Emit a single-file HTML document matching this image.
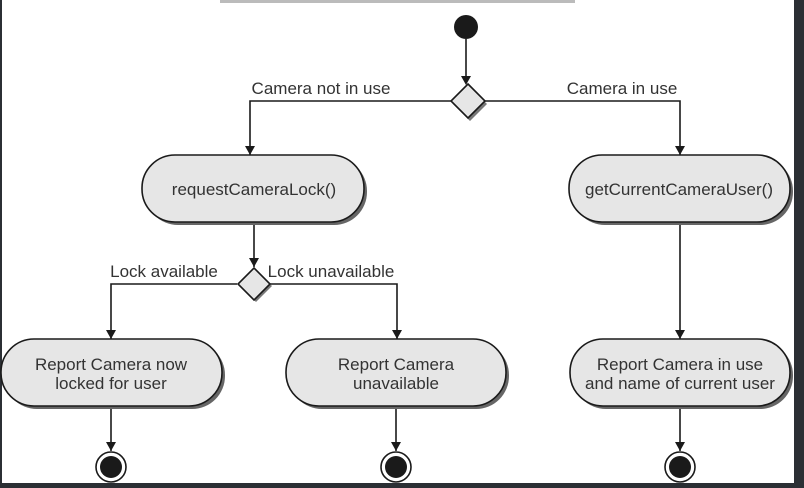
<!DOCTYPE html>
<html><head><meta charset="utf-8"><style>
html,body{margin:0;padding:0;background:#2b2f34;}
svg{display:block}
text{font-family:"Liberation Sans",sans-serif;font-size:17px;fill:#333;}
</style></head><body>
<svg width="804" height="488" viewBox="0 0 804 488" xmlns="http://www.w3.org/2000/svg">
<rect x="2" y="0" width="792" height="483" fill="#fff"/>
<rect x="220" y="0" width="355" height="3" fill="#bbb"/>
<g stroke="#1a1a1a" stroke-width="1.6" fill="none">
<path d="M466,39 V83"/>
<path d="M451,101 H250 V155"/>
<path d="M485,101 H680 V155"/>
<path d="M254,222 V267"/>
<path d="M237,284 H111 V339"/>
<path d="M270,284 H397 V339"/>
<path d="M680,222 V339"/>
<path d="M111,406 V451"/>
<path d="M396,406 V451"/>
<path d="M680,406 V451"/>
</g>
<g fill="#1a1a1a">
<path d="M461,76 L471,76 L466,85 Z"/>
<path d="M245,146 L255,146 L250,155 Z"/>
<path d="M675,146 L685,146 L680,155 Z"/>
<path d="M249,258 L259,258 L254,267 Z"/>
<path d="M106,330 L116,330 L111,339 Z"/>
<path d="M392,330 L402,330 L397,339 Z"/>
<path d="M675,330 L685,330 L680,339 Z"/>
<path d="M106,442 L116,442 L111,451 Z"/>
<path d="M391,442 L401,442 L396,451 Z"/>
<path d="M675,442 L685,442 L680,451 Z"/>
</g>
<circle cx="466" cy="27" r="12" fill="#1a1a1a"/>
<g fill="#e6e6e6" stroke="#1a1a1a" stroke-width="1.6">
<path d="M470,87 L487,104 L470,121 L453,104 Z" fill="#777" stroke="none"/>
<path d="M468,84 L485,101 L468,118 L451,101 Z"/>
<path d="M256,270 L272,286 L256,302 L240,286 Z" fill="#777" stroke="none"/>
<path d="M254,268 L270,284 L254,300 L238,284 Z"/>
</g>
<g>
<rect x="145" y="158" width="222" height="67" rx="33" fill="#666"/>
<rect x="142" y="155" width="222" height="67" rx="33" fill="#e6e6e6" stroke="#1a1a1a" stroke-width="1.6"/>
<rect x="572" y="158" width="221" height="67" rx="33" fill="#666"/>
<rect x="569" y="155" width="221" height="67" rx="33" fill="#e6e6e6" stroke="#1a1a1a" stroke-width="1.6"/>
<rect x="4" y="342" width="221" height="67" rx="33" fill="#666"/>
<rect x="1" y="339" width="221" height="67" rx="33" fill="#e6e6e6" stroke="#1a1a1a" stroke-width="1.6"/>
<rect x="289" y="342" width="220" height="67" rx="33" fill="#666"/>
<rect x="286" y="339" width="220" height="67" rx="33" fill="#e6e6e6" stroke="#1a1a1a" stroke-width="1.6"/>
<rect x="573" y="342" width="220" height="67" rx="33" fill="#666"/>
<rect x="570" y="339" width="220" height="67" rx="33" fill="#e6e6e6" stroke="#1a1a1a" stroke-width="1.6"/>
</g>
<g>
<circle cx="111" cy="467" r="15" fill="#fff" stroke="#1a1a1a" stroke-width="1.6"/>
<circle cx="111" cy="467" r="11" fill="#1a1a1a"/>
<circle cx="396" cy="467" r="15" fill="#fff" stroke="#1a1a1a" stroke-width="1.6"/>
<circle cx="396" cy="467" r="11" fill="#1a1a1a"/>
<circle cx="680" cy="467" r="15" fill="#fff" stroke="#1a1a1a" stroke-width="1.6"/>
<circle cx="680" cy="467" r="11" fill="#1a1a1a"/>
</g>
<g text-anchor="middle">
<text x="321" y="94">Camera not in use</text>
<text x="622" y="94">Camera in use</text>
<text x="254" y="195">requestCameraLock()</text>
<text x="679" y="195">getCurrentCameraUser()</text>
<text x="164" y="277">Lock available</text>
<text x="331" y="277">Lock unavailable</text>
<text x="111" y="370">Report Camera now</text>
<text x="111" y="389">locked for user</text>
<text x="396" y="370">Report Camera</text>
<text x="396" y="389">unavailable</text>
<text x="680" y="370">Report Camera in use</text>
<text x="680" y="389">and name of current user</text>
</g>
</svg>
</body></html>
